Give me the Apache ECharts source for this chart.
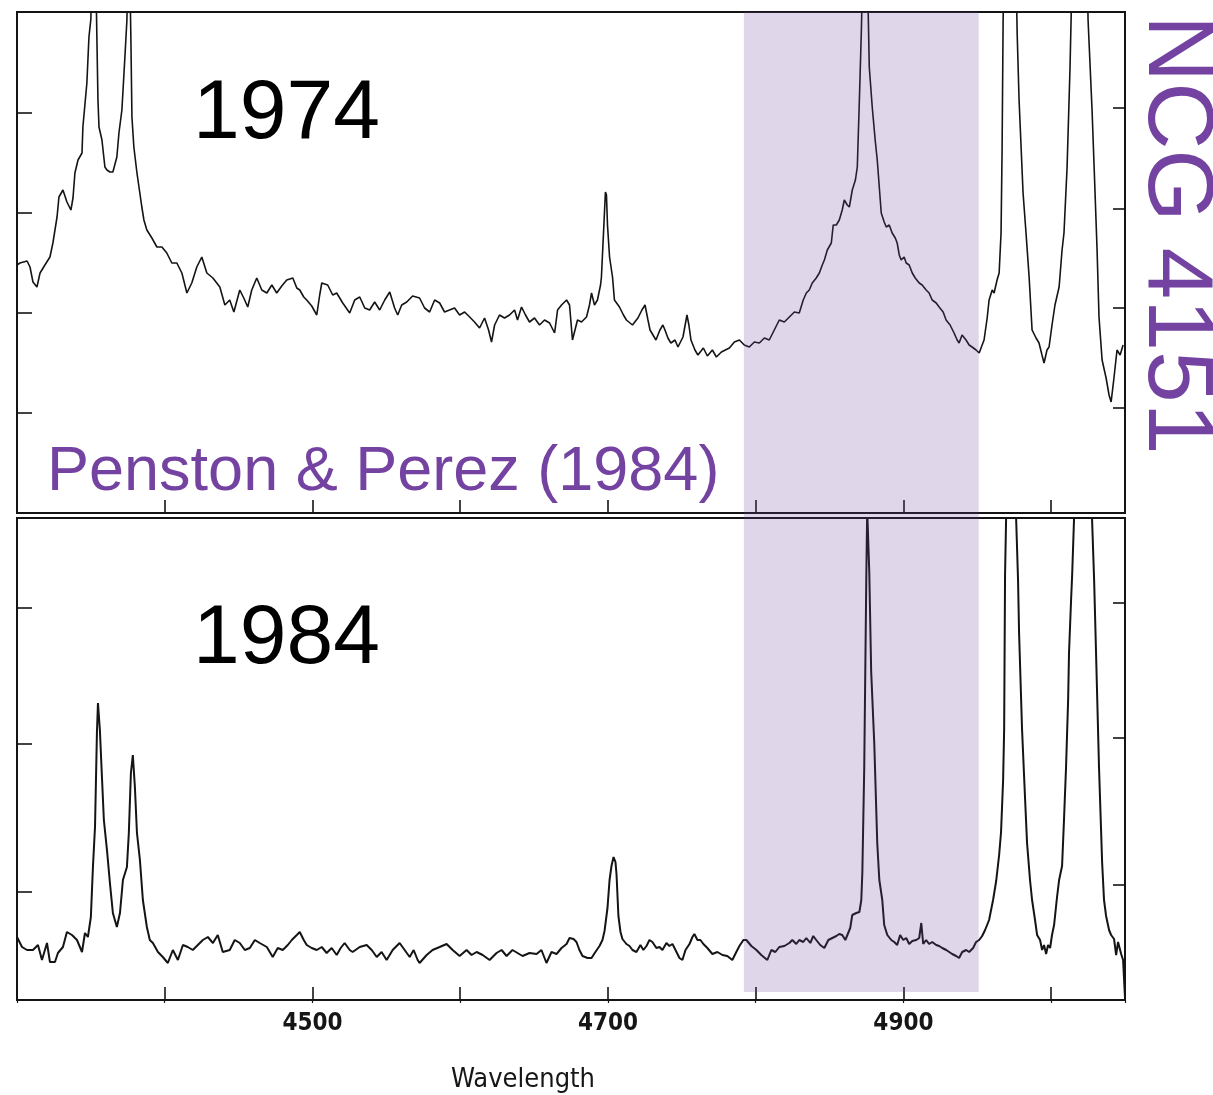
<!DOCTYPE html>
<html>
<head>
<meta charset="utf-8">
<script src="https://cdn.jsdelivr.net/npm/echarts@6/dist/echarts.min.js"></script>
<style>
html,body{margin:0;padding:0;background:#fff;}
#chart{width:1213px;height:1095px;}
</style>
</head>
<body>
<div id="chart"></div>
<script>
// ---- DATA (wavelength in Å, relative flux) ----
const spec1974 = [
[4300.0,2.48],[4302.0,2.50],[4306.8,2.52],[4308.8,2.46],[4310.8,2.31],[4313.5,2.26],[4315.6,2.40],[4318.9,2.48],[4322.3,2.56],[4324.3,2.70],
[4327.1,2.96],[4328.4,3.16],[4331.1,3.23],[4333.8,3.11],[4336.5,3.03],[4337.9,3.15],[4339.2,3.40],[4341.3,3.53],[4344.0,3.60],[4344.6,3.86],
[4347.3,4.30],[4348.7,4.76],[4350.0,4.94],[4352.1,6.5],[4354.1,4.73],[4354.8,4.13],[4355.5,3.86],[4357.5,3.73],[4359.5,3.46],[4360.9,3.43],
[4362.9,3.41],[4364.9,3.41],[4367.6,3.56],[4369.0,3.80],[4371.0,4.03],[4373.0,4.55],[4374.4,4.93],[4375.7,6.0],[4377.1,4.73],[4377.8,3.96],
[4379.1,3.66],[4381.2,3.40],[4384.5,3.06],[4385.9,2.93],[4387.9,2.83],[4391.3,2.75],[4394.7,2.66],[4398.1,2.66],[4401.4,2.60],[4404.8,2.50],
[4408.2,2.50],[4411.6,2.40],[4415.0,2.20],[4418.3,2.30],[4421.7,2.46],[4425.1,2.56],[4428.5,2.40],[4432.6,2.35],[4437.3,2.26],[4440.7,2.08],
[4444.0,2.13],[4446.8,2.01],[4450.8,2.23],[4453.5,2.15],[4456.2,2.06],[4458.9,2.23],[4462.3,2.35],[4465.7,2.23],[4469.1,2.20],[4472.5,2.28],
[4475.8,2.20],[4479.2,2.27],[4482.6,2.33],[4486.7,2.35],[4489.4,2.25],[4491.4,2.23],[4494.1,2.16],[4496.1,2.13],[4499.5,2.07],[4502.9,1.98],
[4504.9,2.18],[4506.3,2.30],[4510.3,2.28],[4513.7,2.18],[4516.4,2.20],[4520.5,2.10],[4525.2,2.00],[4528.6,2.13],[4532.0,2.16],[4535.4,2.05],
[4538.7,2.03],[4542.1,2.11],[4545.5,2.03],[4548.9,2.13],[4552.3,2.21],[4555.6,2.05],[4557.7,1.98],[4560.4,2.08],[4563.8,2.11],[4567.8,2.17],
[4572.5,2.15],[4575.9,2.05],[4579.3,2.01],[4582.7,2.13],[4586.1,2.10],[4589.4,2.01],[4592.8,2.03],[4596.2,2.05],[4599.6,1.98],[4603.0,2.01],
[4606.4,1.96],[4609.7,1.91],[4613.1,1.85],[4616.5,1.95],[4619.2,1.83],[4621.2,1.71],[4623.3,1.88],[4626.6,1.98],[4630.0,1.95],[4633.4,1.98],
[4636.8,2.03],[4638.8,1.93],[4641.5,2.06],[4644.2,1.98],[4646.9,1.91],[4650.3,1.95],[4653.7,1.88],[4657.1,1.93],[4660.5,1.90],[4663.9,1.80],
[4665.9,2.03],[4668.6,2.08],[4672.0,2.13],[4674.0,2.08],[4676.0,1.73],[4679.4,1.93],[4682.1,1.91],[4685.5,1.96],[4687.5,2.08],[4688.9,2.20],
[4690.9,2.08],[4692.9,2.13],[4695.0,2.28],[4695.6,2.36],[4697.0,2.80],[4698.3,3.21],[4699.0,3.18],[4699.7,2.88],[4701.1,2.56],[4703.1,2.36],
[4704.4,2.13],[4707.8,2.06],[4710.5,1.98],[4712.5,1.93],[4716.6,1.88],[4720.3,1.95],[4723.0,2.03],[4725.1,2.08],[4727.1,1.93],[4728.5,1.83],
[4732.5,1.73],[4735.2,1.83],[4737.2,1.88],[4738.6,1.83],[4740.6,1.75],[4742.6,1.70],[4745.4,1.73],[4747.4,1.66],[4750.8,1.76],[4753.5,1.98],
[4754.8,1.88],[4756.2,1.73],[4758.9,1.63],[4760.9,1.58],[4764.6,1.65],[4767.3,1.57],[4770.7,1.63],[4773.4,1.56],[4776.8,1.61],[4779.5,1.63],
[4782.2,1.65],[4785.6,1.71],[4789.0,1.73],[4792.3,1.68],[4795.7,1.66],[4799.1,1.71],[4802.5,1.70],[4805.9,1.75],[4809.2,1.73],[4812.6,1.83],
[4816.0,1.93],[4819.4,1.91],[4822.8,1.96],[4826.2,2.01],[4829.5,2.00],[4832.2,2.13],[4834.3,2.20],[4836.3,2.23],[4838.3,2.30],[4841.0,2.35],
[4843.1,2.40],[4845.1,2.48],[4846.5,2.53],[4848.5,2.63],[4851.2,2.70],[4852.5,2.88],[4854.6,2.88],[4856.6,2.93],[4858.6,3.03],[4860.0,3.13],
[4862.0,3.08],[4863.4,3.06],[4865.4,3.23],[4867.5,3.33],[4868.8,3.46],[4870.2,4.13],[4871.5,4.80],[4874.2,6.5],[4876.9,4.46],[4878.9,4.06],
[4880.9,3.73],[4882.3,3.53],[4885.0,3.00],[4887.0,2.91],[4888.4,2.86],[4890.4,2.88],[4892.4,2.80],[4894.5,2.75],[4895.8,2.70],[4897.2,2.58],
[4898.5,2.53],[4900.5,2.56],[4901.9,2.50],[4903.9,2.48],[4906.0,2.40],[4908.0,2.35],[4910.7,2.30],[4912.7,2.28],[4915.4,2.23],[4917.4,2.20],
[4919.5,2.13],[4922.2,2.10],[4924.2,2.06],[4926.9,2.01],[4928.9,1.93],[4931.6,1.88],[4934.3,1.80],[4936.4,1.73],[4937.7,1.70],[4939.7,1.78],
[4942.4,1.73],[4944.5,1.68],[4946.5,1.66],[4949.2,1.63],[4951.3,1.60],[4953.3,1.68],[4954.6,1.73],[4956.7,1.95],[4958.0,2.13],[4960.1,2.23],
[4961.4,2.20],[4963.4,2.33],[4964.8,2.40],[4966.1,2.80],[4966.8,3.63],[4967.5,4.93],[4972.2,9.0],[4977.0,4.80],[4978.3,4.13],[4981.0,3.20],
[4983.0,2.80],[4985.1,2.36],[4987.1,1.83],[4989.8,1.75],[4991.8,1.70],[4993.8,1.58],[4995.2,1.50],[4997.2,1.63],[4998.6,1.66],[5000.6,1.88],
[5002.6,2.08],[5005.4,2.26],[5007.4,2.63],[5008.7,2.80],[5010.8,3.46],[5012.8,4.46],[5013.5,4.93],[5018.9,10],[5025.0,4.93],[5027.7,4.03],
[5029.1,3.46],[5031.1,2.63],[5032.4,1.96],[5034.5,1.53],[5037.2,1.35],[5039.2,1.18],[5040.6,1.11],[5042.6,1.36],[5044.6,1.63],[5046.7,1.58],
[5048.7,1.68]
];

const spec1984 = [
[4300.0,0.63],[4303.4,0.53],[4306.8,0.50],[4310.8,0.50],[4314.2,0.55],[4316.9,0.40],[4320.3,0.57],[4322.3,0.38],[4325.7,0.38],[4327.7,0.47],
[4331.1,0.53],[4333.8,0.68],[4337.2,0.65],[4340.6,0.60],[4344.0,0.48],[4346.0,0.67],[4348.0,0.63],[4350.0,0.83],[4351.4,1.33],[4352.8,1.73],
[4354.1,2.67],[4354.8,2.97],[4356.1,2.70],[4357.5,2.23],[4358.8,1.80],[4360.9,1.50],[4362.9,1.17],[4364.9,0.87],[4367.6,0.73],[4369.7,0.87],
[4371.7,1.20],[4374.4,1.33],[4375.7,1.67],[4377.1,2.27],[4378.4,2.45],[4379.8,2.13],[4381.2,1.67],[4383.2,1.40],[4385.2,1.00],[4387.9,0.73],
[4389.9,0.60],[4392.0,0.57],[4395.4,0.48],[4398.7,0.43],[4402.1,0.37],[4405.5,0.50],[4408.9,0.40],[4412.3,0.55],[4415.6,0.53],[4419.0,0.50],
[4422.4,0.55],[4425.8,0.60],[4429.2,0.63],[4432.6,0.57],[4435.9,0.65],[4439.3,0.48],[4444.0,0.50],[4447.4,0.60],[4450.8,0.57],[4454.2,0.50],
[4457.6,0.52],[4461.0,0.60],[4464.3,0.57],[4469.1,0.53],[4473.1,0.43],[4476.5,0.52],[4479.9,0.50],[4483.3,0.55],[4486.0,0.60],[4489.4,0.65],
[4491.4,0.68],[4494.1,0.60],[4496.1,0.55],[4499.5,0.52],[4502.9,0.50],[4506.3,0.53],[4509.6,0.47],[4513.0,0.52],[4516.4,0.45],[4519.1,0.52],
[4521.8,0.57],[4525.2,0.50],[4527.2,0.48],[4532.0,0.53],[4536.7,0.55],[4540.1,0.50],[4543.5,0.43],[4546.8,0.48],[4550.2,0.40],[4554.3,0.50],
[4559.0,0.57],[4562.4,0.50],[4565.8,0.43],[4568.5,0.50],[4571.2,0.40],[4572.5,0.37],[4577.3,0.45],[4581.3,0.50],[4586.1,0.53],[4590.8,0.56],
[4594.9,0.50],[4599.6,0.44],[4604.3,0.50],[4607.7,0.45],[4611.1,0.48],[4615.2,0.45],[4619.9,0.40],[4624.6,0.47],[4628.0,0.50],[4631.4,0.44],
[4635.4,0.50],[4638.8,0.47],[4642.2,0.44],[4646.9,0.47],[4651.7,0.46],[4655.0,0.50],[4658.4,0.37],[4661.8,0.48],[4665.2,0.46],[4668.6,0.52],
[4672.0,0.56],[4674.0,0.62],[4676.7,0.61],[4678.7,0.58],[4680.7,0.50],[4682.8,0.44],[4686.2,0.42],[4688.9,0.42],[4691.5,0.48],[4694.3,0.54],
[4696.3,0.60],[4697.7,0.69],[4699.7,0.92],[4701.1,1.20],[4702.4,1.34],[4703.8,1.43],[4705.1,1.38],[4705.8,1.26],[4707.1,0.84],[4708.5,0.68],
[4709.8,0.61],[4712.5,0.56],[4714.6,0.54],[4716.6,0.50],[4719.3,0.48],[4722.0,0.55],[4724.0,0.50],[4726.1,0.54],[4728.1,0.60],[4730.1,0.58],
[4732.8,0.52],[4734.9,0.53],[4736.9,0.50],[4739.6,0.57],[4741.6,0.54],[4743.7,0.56],[4746.4,0.48],[4748.4,0.42],[4750.4,0.40],[4752.5,0.50],
[4755.2,0.56],[4757.2,0.63],[4758.5,0.66],[4760.6,0.60],[4762.6,0.60],[4764.6,0.56],[4767.3,0.52],[4770.7,0.46],[4774.1,0.48],[4777.5,0.45],
[4780.8,0.44],[4784.2,0.40],[4786.9,0.48],[4789.0,0.54],[4791.7,0.60],[4793.7,0.60],[4797.1,0.54],[4800.5,0.50],[4803.8,0.45],[4807.9,0.40],
[4810.6,0.50],[4813.3,0.48],[4816.0,0.53],[4819.4,0.54],[4822.8,0.57],[4824.8,0.60],[4827.5,0.56],[4829.5,0.60],[4832.2,0.58],[4834.3,0.62],
[4837.0,0.57],[4839.0,0.64],[4841.0,0.60],[4843.7,0.55],[4846.5,0.52],[4849.2,0.60],[4851.9,0.62],[4854.6,0.64],[4856.6,0.66],[4858.6,0.65],
[4860.7,0.60],[4862.0,0.62],[4864.0,0.72],[4865.4,0.85],[4868.1,0.87],[4870.2,0.88],[4871.5,1.00],[4872.2,1.27],[4873.5,2.33],[4874.9,4.24],
[4875.5,4.90],[4876.9,4.28],[4878.2,3.28],[4880.3,2.56],[4882.3,1.57],[4883.7,1.20],[4885.7,1.00],[4887.0,0.75],[4889.1,0.65],[4891.8,0.60],
[4893.8,0.58],[4895.8,0.55],[4897.8,0.65],[4899.9,0.60],[4901.9,0.62],[4903.9,0.56],[4906.0,0.59],[4908.7,0.60],[4910.7,0.62],[4912.1,0.77],
[4913.4,0.56],[4915.4,0.60],[4917.4,0.56],[4919.5,0.58],[4922.2,0.55],[4924.2,0.54],[4926.3,0.52],[4929.0,0.50],[4931.0,0.48],[4933.0,0.46],
[4935.7,0.44],[4937.7,0.42],[4939.8,0.48],[4942.5,0.50],[4944.5,0.48],[4947.2,0.52],[4949.2,0.58],[4951.3,0.60],[4953.3,0.64],[4955.3,0.70],
[4958.0,0.80],[4960.7,1.00],[4962.8,1.19],[4964.8,1.45],[4966.1,1.68],[4967.5,2.20],[4968.2,2.71],[4968.8,4.24],[4969.5,4.80],[4972.9,9.0],
[4976.3,4.82],[4977.6,4.20],[4978.3,3.67],[4980.3,2.71],[4982.4,2.00],[4983.7,1.57],[4985.7,1.20],[4987.1,1.00],[4989.1,0.80],[4990.5,0.65],
[4992.5,0.60],[4993.9,0.50],[4995.2,0.55],[4996.6,0.46],[4997.9,0.55],[4999.3,0.52],[5000.6,0.65],[5002.0,0.75],[5004.0,1.03],[5005.4,1.20],
[5007.4,1.34],[5008.7,1.80],[5010.1,2.33],[5011.5,3.00],[5012.1,3.47],[5013.5,4.00],[5014.2,4.24],[5015.5,4.81],[5021.3,12],[5027.7,4.81],
[5029.1,4.20],[5030.4,3.47],[5032.4,2.33],[5033.8,1.70],[5034.5,1.38],[5035.8,1.00],[5037.2,0.84],[5039.2,0.70],[5040.6,0.65],[5042.6,0.61],
[5044.0,0.45],[5045.3,0.58],[5047.4,0.46],[5048.7,0.40],[5050.0,0.02]
];

const xMin = 4300, xMax = 5050, xStep = 100;
const xTickLabels = [4500, 4700, 4900];
const ticks1974Left = [1, 2, 3, 4];
const ticks1974Right = [1.05, 2.05, 3.04, 4.05];
const ticks1984Left = [1.08, 2.56, 3.92];
const ticks1984Right = [1.15, 2.62, 3.97];
const yMax1974 = 5.01, yMax1984 = 4.82;
const bandRange = [4792, 4951];
const labelTop = '1974', labelBottom = '1984';
const creditText = 'Penston & Perez (1984)';
const objectName = 'NCG 4151';
const xName = 'Wavelength';

// ---- CHART ----
const ink = '#141414';
const purple = '#7442a0';
const chart = echarts.init(document.getElementById('chart'), null, {renderer: 'canvas'});

function yAxisDef(gridIndex, position, max, ticks, len) {
  return {
    gridIndex: gridIndex, type: 'value', position: position, min: 0, max: max,
    axisLine: {show: false},
    axisTick: {show: true, inside: true, length: len, customValues: ticks, lineStyle: {color: ink, width: 1.6}},
    axisLabel: {show: false}, splitLine: {show: false}
  };
}

const option = {
  animation: false,
  backgroundColor: '#ffffff',
  title: [
    {text: labelTop, left: 193, top: 73, padding: 0,
     textStyle: {fontFamily: 'Liberation Sans', fontSize: 84, fontWeight: 'normal', color: '#000'}},
    {text: labelBottom, left: 193, top: 598, padding: 0,
     textStyle: {fontFamily: 'Liberation Sans', fontSize: 84, fontWeight: 'normal', color: '#000'}},
    {text: creditText, left: 47, top: 441, padding: 0,
     textStyle: {fontFamily: 'Liberation Sans', fontSize: 63, fontWeight: 'normal', color: purple}}
  ],
  graphic: [
    {type: 'text', x: 1221, y: 15, rotation: -Math.PI / 2, z: 20,
     style: {text: objectName, fill: purple, font: '93px "Liberation Sans"', textAlign: 'left', textVerticalAlign: 'top'}}
  ],
  grid: [
    {left: 17, top: 12, width: 1108, height: 501, show: true, borderColor: ink, borderWidth: 2, backgroundColor: 'transparent'},
    {left: 17, top: 518, width: 1108, height: 482, show: true, borderColor: ink, borderWidth: 2, backgroundColor: 'transparent'},
    {left: 17, top: 12, width: 1108, height: 980, show: false}
  ],
  xAxis: [
    {gridIndex: 0, type: 'value', min: xMin, max: xMax, interval: xStep, position: 'bottom',
     axisLine: {show: true, lineStyle: {color: ink, width: 2}},
     axisTick: {show: true, inside: true, length: 13, lineStyle: {color: ink, width: 1.6}},
     axisLabel: {show: false}, splitLine: {show: false}},
    {gridIndex: 1, type: 'value', min: xMin, max: xMax, interval: xStep, position: 'bottom',
     axisLine: {show: true, lineStyle: {color: ink, width: 2}},
     axisTick: {show: true, inside: true, length: 13, lineStyle: {color: ink, width: 1.6}},
     axisLabel: {show: true, margin: 12, color: '#161616', fontFamily: 'DejaVu Sans Condensed', fontSize: 24, fontWeight: 'bold',
       formatter: function (v) { return xTickLabels.indexOf(v) >= 0 ? String(v) : ''; }},
     splitLine: {show: false},
     name: xName, nameLocation: 'middle', nameGap: 66,
     nameTextStyle: {color: '#161616', fontFamily: 'DejaVu Sans Condensed', fontSize: 27, padding: [0, 96, 0, 0]}},
    {gridIndex: 1, type: 'value', min: xMin, max: xMax, interval: xStep, position: 'top',
     axisLine: {show: false},
     axisTick: {show: true, inside: true, length: 3, lineStyle: {color: ink, width: 1.2}},
     axisLabel: {show: false}, splitLine: {show: false}},
    {gridIndex: 2, type: 'value', min: xMin, max: xMax, show: false}
  ],
  yAxis: [
    yAxisDef(0, 'left', yMax1974, ticks1974Left, 15),
    yAxisDef(0, 'right', yMax1974, ticks1974Right, 12),
    yAxisDef(1, 'left', yMax1984, ticks1984Left, 15),
    yAxisDef(1, 'right', yMax1984, ticks1984Right, 12),
    {gridIndex: 2, type: 'value', min: 0, max: 1, show: false}
  ],
  series: [
    {name: labelTop, type: 'line', xAxisIndex: 0, yAxisIndex: 0, data: spec1974,
     symbol: 'none', showSymbol: false, clip: true, z: 3,
     lineStyle: {color: ink, width: 1.6}},
    {name: labelBottom, type: 'line', xAxisIndex: 1, yAxisIndex: 2, data: spec1984,
     symbol: 'none', showSymbol: false, clip: true, z: 3,
     lineStyle: {color: ink, width: 2}},
    {name: 'band', type: 'line', xAxisIndex: 3, yAxisIndex: 4, data: [], z: 10,
     markArea: {silent: true, z: 10, itemStyle: {color: 'rgba(116,68,160,0.22)'},
       data: [[{xAxis: bandRange[0]}, {xAxis: bandRange[1]}]]}}
  ]
};
chart.setOption(option);
</script>
</body>
</html>
